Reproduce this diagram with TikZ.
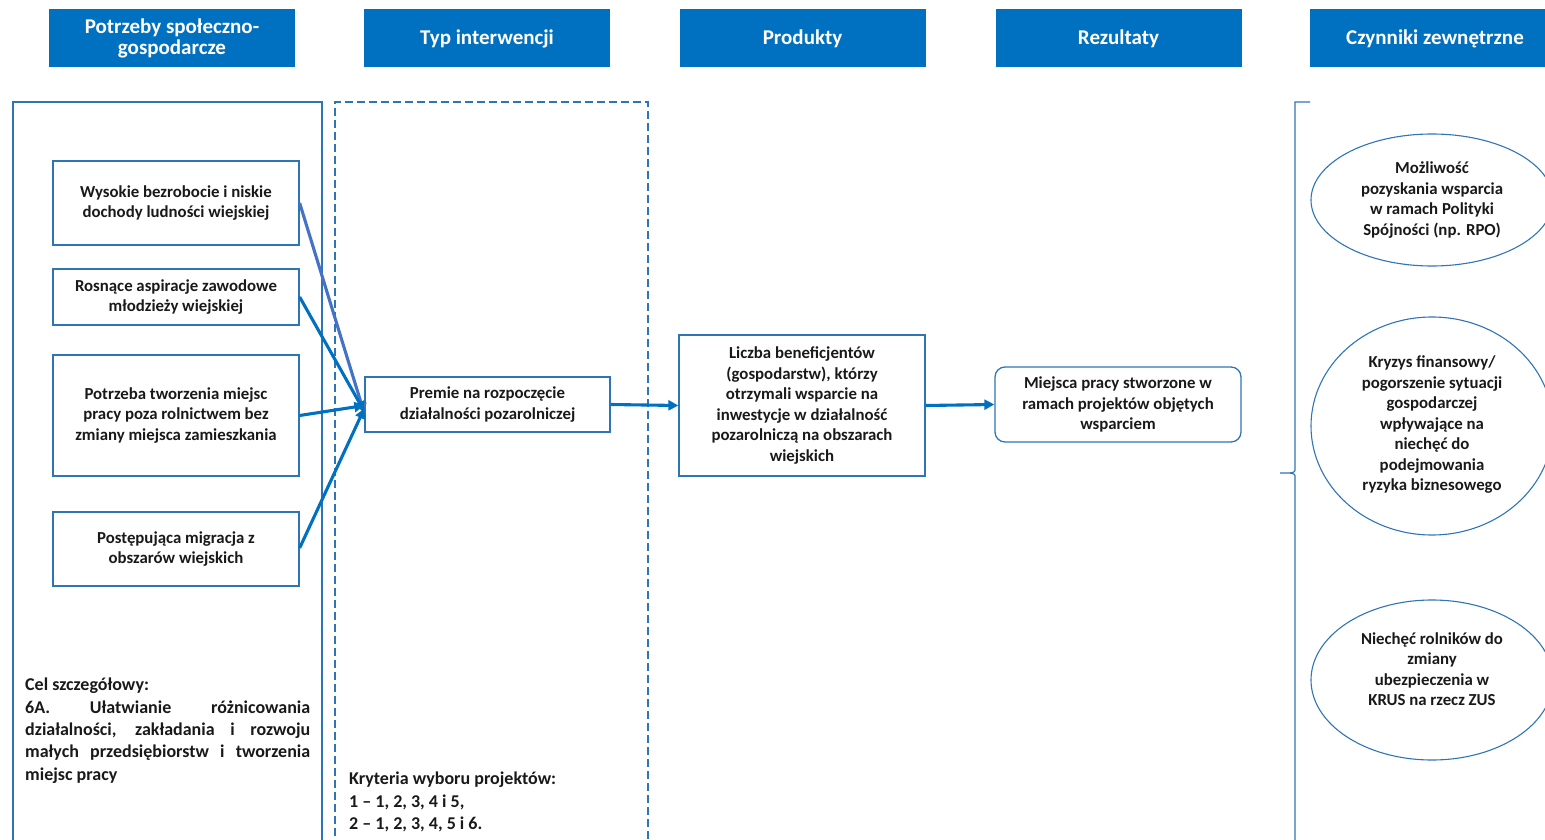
\documentclass[tikz,border=0pt]{standalone}
\usepackage{fontspec}
\setmainfont{Carlito}
\usetikzlibrary{shapes.geometric,arrows.meta}
\definecolor{hdr}{RGB}{0,112,192}
\definecolor{bord}{RGB}{46,117,182}
\definecolor{arr}{RGB}{0,112,192}
\definecolor{arrb}{RGB}{68,114,196}
\definecolor{txt}{RGB}{25,25,25}
\newcommand\bt{\fontsize{16.8}{20.5}\selectfont\bfseries}
\newcommand\rt{\fontsize{18}{22.3}\selectfont\bfseries}
\tikzset{
  hbox/.style={fill=hdr, draw=none, text=white, minimum width=246pt, minimum height=58pt, inner sep=2pt, align=center, font=\fontsize{21}{21.5}\selectfont\bfseries},
  nbox/.style={draw=bord, line width=1.3pt, text=txt, align=center, inner sep=2pt, font=\bt},
  ell/.style={draw=bord, line width=1.1pt, ellipse, inner sep=0pt},
  etext/.style={text=txt, align=center, inner sep=0pt, font=\bt},
  frame/.style={draw=bord, line width=1.2pt},
  conn/.style={draw=arr, line width=3.1pt, -{Triangle[length=10pt,width=10pt]}},
}
\begin{document}
\begin{tikzpicture}[x=1pt,y=-1pt]
\useasboundingbox (0,0) rectangle (1545,840);
\clip (0,0) rectangle (1545,840);
% headers
\node[hbox] (h1) at (172,38.5) {Potrzeby społeczno-\\gospodarcze};
\node[hbox] (h2) at (487,38.5) {Typ interwencji};
\node[hbox] (h3) at (802.5,38.5) {Produkty};
\node[hbox] (h4) at (1118.5,38.5) {Rezultaty};
\node[hbox, minimum width=250pt] (h5) at (1435,38.5) {Czynniki zewnętrzne};
% frames
\draw[frame] (13,860) -- (13,102) -- (322,102) -- (322,860);
\draw[frame, dashed, dash pattern=on 8pt off 4pt] (335,860) -- (335,102) -- (648,102) -- (648,860);
\draw[frame] (1310,102) -- (1295,102) -- (1295,468) .. controls (1295,472) .. (1290,473) -- (1280,473);
\draw[frame] (1290,473) .. controls (1295,474) .. (1295,478) -- (1295,860);
% left boxes
\node[nbox, minimum width=246pt, minimum height=84pt] (a) at (176,203) {Wysokie bezrobocie i niskie\\dochody ludności wiejskiej};
\node[nbox, minimum width=246pt, minimum height=56pt] (b) at (176,297) {Rosnące aspiracje zawodowe\\młodzieży wiejskiej};
\node[nbox, minimum width=246pt, minimum height=121pt] (c) at (176,415.5) {Potrzeba tworzenia miejsc\\pracy poza rolnictwem bez\\zmiany miejsca zamieszkania};
\node[nbox, minimum width=246pt, minimum height=74pt] (d) at (176,549) {Postępująca migracja z\\obszarów wiejskich};
% middle
\node[nbox, minimum width=245pt, minimum height=55pt] (p) at (487.5,404.5) {Premie na rozpoczęcie\\działalności pozarolniczej};
\node[nbox, minimum width=246pt, minimum height=141pt] (l) at (802,405.5) {Liczba beneficjentów\\(gospodarstw), którzy\\otrzymali wsparcie na\\inwestycje w działalność\\pozarolniczą na obszarach\\wiejskich};
\node[nbox, rounded corners=10pt, minimum width=246pt, minimum height=75pt] (m) at (1118,404.5) {Miejsca pracy stworzone w\\ramach projektów objętych\\wsparciem};
% connectors
\coordinate (pa) at ([yshift=-9pt]p.west);
\coordinate (pb) at ([yshift=-7pt]p.west);
\coordinate (pc) at ([yshift=-1pt]p.west);
\coordinate (pd) at ([yshift=-4pt]p.west);
\draw[conn, draw=arrb] ([yshift=0pt]a.east) -- (pa);
\draw[conn] ([yshift=0pt]b.east) -- (pb);
\draw[conn] (c.east) -- (pc);
\draw[conn] ([yshift=1pt]d.east) -- (pd);
\draw[conn] (p.east) -- (l.west);
\draw[conn] (l.east) -- (m.west);
% ellipses
\node[ell, minimum width=242pt, minimum height=132pt] (e1) at (1432,200) {};
\node[etext] (t1) at (1432,200) {Możliwość\\pozyskania wsparcia\\w ramach Polityki\\Spójności (np. RPO)};
\node[ell, minimum width=242pt, minimum height=218pt] (e2) at (1432,426) {};
\node[etext] (t2) at (1432,425) {Kryzys finansowy/\\pogorszenie sytuacji\\gospodarczej\\wpływające na\\niechęć do\\podejmowania\\ryzyka biznesowego};
\node[ell, minimum width=242pt, minimum height=160pt] (e3) at (1432,680) {};
\node[etext] (t3) at (1432,669) {Niechęć rolników do\\zmiany\\ubezpieczenia w\\KRUS na rzecz ZUS};
% bottom texts
\node[text=txt, anchor=north west, text width=285pt, align=justify, inner sep=0pt, font=\rt] (cel) at (25,678) {Cel szczegółowy:\\6A. Ułatwianie różnicowania\linebreak działalności, zakładania i rozwoju\linebreak małych przedsiębiorstw i tworzenia\linebreak miejsc pracy};
\node[text=txt, anchor=north west, align=left, inner sep=0pt, font=\rt] (kr) at (349,772) {Kryteria wyboru projektów:\\1 – 1, 2, 3, 4 i 5,\\2 – 1, 2, 3, 4, 5 i 6.};
\end{tikzpicture}
\end{document}
